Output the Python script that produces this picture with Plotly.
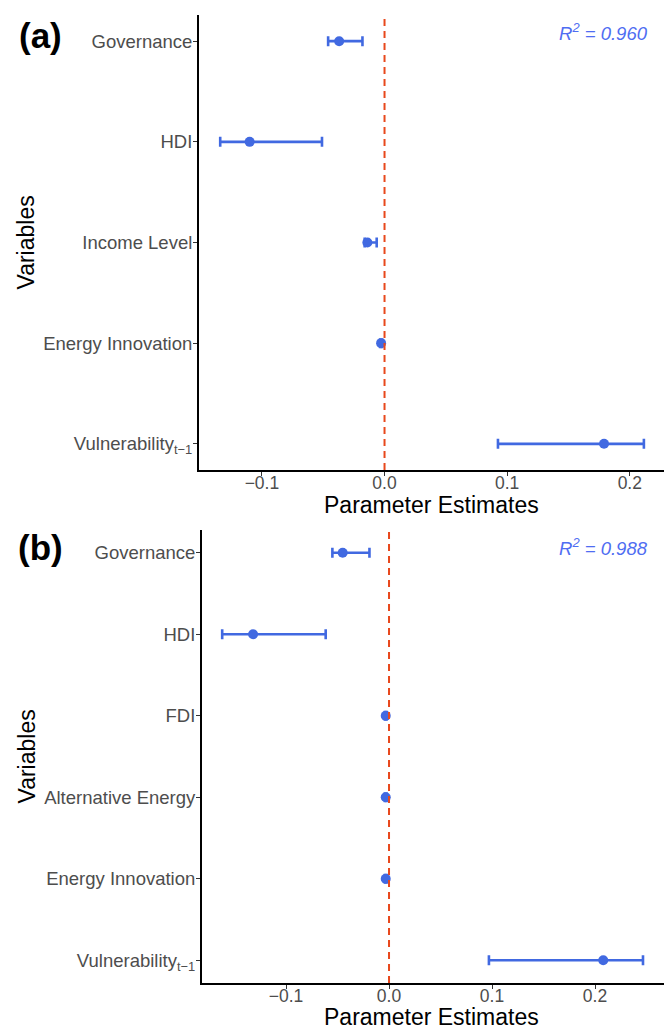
import plotly.graph_objects as go

# ---------------- data ----------------
vars_a = ["Governance", "HDI", "Income Level", "Energy Innovation", "Vulnerability<sub>t−1</sub>"]
est_a = [-0.037, -0.110, -0.014, -0.0028, 0.179]
lo_a = [-0.046, -0.134, -0.0162, -0.0036, 0.0925]
hi_a = [-0.018, -0.051, -0.0064, -0.0020, 0.2115]
r2_a = "0.960"

vars_b = ["Governance", "HDI", "FDI", "Alternative Energy", "Energy Innovation", "Vulnerability<sub>t−1</sub>"]
est_b = [-0.045, -0.132, -0.0032, -0.0032, -0.0032, 0.208]
lo_b = [-0.055, -0.162, -0.0040, -0.0040, -0.0040, 0.097]
hi_b = [-0.019, -0.0615, -0.0024, -0.0024, -0.0024, 0.2466]
r2_b = "0.988"

x_ticks = [-0.1, 0.0, 0.1, 0.2]

# ---------------- style ----------------
W, H = 668, 1029
BLUE = "#4169E1"
RED = "#E8481C"
FONT = "Liberation Sans, Arial, Helvetica, sans-serif"
TICKCOL = "#4d4d4d"


def px_x(p):
    return p / W


def px_y(p):
    return 1 - p / H


fig = go.Figure()


def add_panel(vars_, est, lo, hi, xa, ya):
    fig.add_trace(go.Scatter(
        x=est, y=vars_, mode="markers",
        marker=dict(color=BLUE, size=10),
        error_x=dict(type="data", symmetric=False,
                     array=[h - e for h, e in zip(hi, est)],
                     arrayminus=[e - l for e, l in zip(est, lo)],
                     color=BLUE, thickness=2.6, width=5),
        xaxis=xa, yaxis=ya, showlegend=False, hoverinfo="x+y",
    ))


add_panel(vars_a, est_a, lo_a, hi_a, "x", "y")
add_panel(vars_b, est_b, lo_b, hi_b, "x2", "y2")

common_x = dict(
    tickvals=x_ticks, tickformat=".1f", showgrid=False, zeroline=False,
    showline=True, linecolor="black", linewidth=2, ticks="outside",
    ticklen=4, tickwidth=1.2, tickcolor="#333333", ticklabelstandoff=-8,
    tickfont=dict(family=FONT, size=17.5, color=TICKCOL), fixedrange=True,
)
common_y = dict(
    type="category", categoryorder="array", showgrid=False, zeroline=False,
    showline=True, linecolor="black", linewidth=2, ticks="outside",
    ticklen=4, tickwidth=1.2, tickcolor="#333333", ticklabelstandoff=-3,
    tickfont=dict(family=FONT, size=18.5, color=TICKCOL), fixedrange=True,
)

fig.update_layout(
    width=W, height=H, margin=dict(l=0, r=0, t=0, b=0),
    paper_bgcolor="white", plot_bgcolor="white",
    font=dict(family=FONT),
    xaxis=dict(domain=[px_x(199), px_x(664)], anchor="y",
               range=[-0.1513, 0.2279], **common_x),
    yaxis=dict(domain=[px_y(470), px_y(15)], anchor="x",
               categoryarray=list(reversed(vars_a)),
               range=[-0.26, len(vars_a) - 1 + 0.26], **common_y),
    xaxis2=dict(domain=[px_x(202), px_x(664)], anchor="y2",
                range=[-0.1816, 0.267], **common_x),
    yaxis2=dict(domain=[px_y(983), px_y(530)], anchor="x2",
                categoryarray=list(reversed(vars_b)),
                range=[-0.28, len(vars_b) - 1 + 0.28], **common_y),
)

# dashed reference lines at zero
for xr, yr in (("x", "y domain"), ("x2", "y2 domain")):
    fig.add_shape(type="line", xref=xr, yref=yr, x0=0, x1=0, y0=0, y1=1,
                  line=dict(color=RED, width=2, dash="7px,5px"), layer="above")

ann = []
# panel labels
for lab, yc in (("(a)", 35), ("(b)", 547)):
    ann.append(dict(text=f"<b>{lab}</b>", x=px_x(40), y=px_y(yc), xref="paper", yref="paper",
                    xanchor="center", yanchor="middle", showarrow=False,
                    font=dict(family=FONT, size=35, color="black")))
# axis titles
for yc in (505, 1017):
    ann.append(dict(text="Parameter Estimates", x=px_x(431.5), y=px_y(yc),
                    xref="paper", yref="paper", xanchor="center", yanchor="middle",
                    showarrow=False, font=dict(family=FONT, size=23, color="black")))
for yc in (242.5, 756.5):
    ann.append(dict(text="Variables", x=px_x(26), y=px_y(yc), textangle=-90,
                    xref="paper", yref="paper", xanchor="center", yanchor="middle",
                    showarrow=False, font=dict(family=FONT, size=23, color="black")))
# R^2 labels
for r2, yc in ((r2_a, 32), (r2_b, 547)):
    ann.append(dict(text=f"<i>R<sup>2</sup> = {r2}</i>", x=px_x(650), y=px_y(yc),
                    xref="paper", yref="paper", xanchor="right", yanchor="middle",
                    showarrow=False, font=dict(family=FONT, size=18.5, color="#4F6DF2")))
fig.update_layout(annotations=ann)

fig.write_html("out.html", config={"displayModeBar": False},
               post_script="document.body.style.margin='0px';")
